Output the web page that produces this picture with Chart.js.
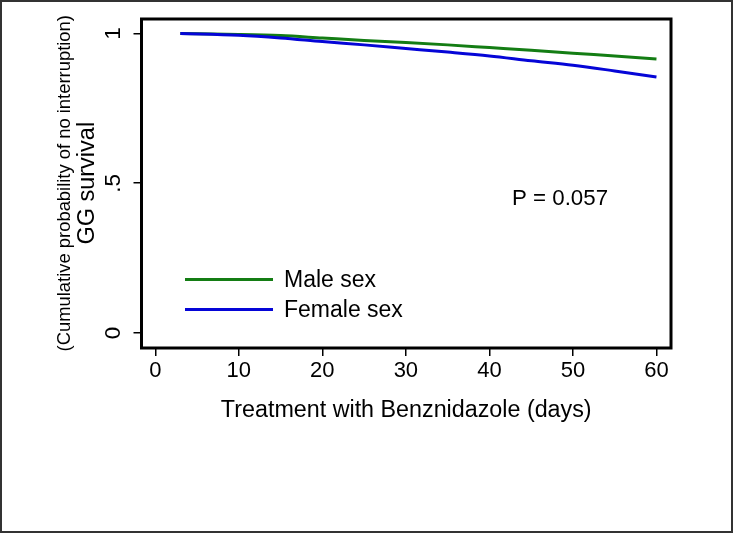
<!DOCTYPE html>
<html>
<head>
<meta charset="utf-8">
<script src="https://cdn.jsdelivr.net/npm/chart.js@4"></script>
<style>
  html, body { margin: 0; padding: 0; background: #fff; }
  canvas { display: block; }
</style>
</head>
<body>
<canvas id="survChart" width="733" height="533"></canvas>
<script>
// survival curves
const days = [3, 10, 15, 20, 25, 30, 35, 40, 45, 50, 55, 60];
const maleSurv = [1.000, 0.997, 0.993, 0.985, 0.977, 0.970, 0.962, 0.953, 0.944, 0.934, 0.925, 0.915];
const femaleSurv = [1.000, 0.994, 0.985, 0.973, 0.962, 0.950, 0.938, 0.925, 0.909, 0.894, 0.875, 0.855];
const seriesNames = ['Male sex', 'Female sex'];
const xTicks = [0, 10, 20, 30, 40, 50, 60];
const yTicks = [0, 0.5, 1];
const yTickLabels = ['0', '.5', '1'];
const pValueText = 'P = 0.057';

const FONT = "'Liberation Sans', Arial, Helvetica, sans-serif";
Chart.defaults.font.family = FONT;
Chart.defaults.color = '#000';

const GREEN = 'rgb(20,125,20)';
const BLUE = 'rgb(5,5,215)';

// white background, outer border, plot frame, y labels, legend, p value
const decorations = {
    id: 'decorations',
    beforeDraw(chart) {
        const c = chart.ctx;
        c.save();
        c.fillStyle = '#fff';
        c.fillRect(0, 0, chart.width, chart.height);
        c.restore();
    },
    afterDraw(chart) {
        const c = chart.ctx;
        const a = chart.chartArea;
        const ys = chart.scales.y;
        const xs = chart.scales.x;
        c.save();

        // frame round plot area
        c.strokeStyle = '#000';
        c.lineWidth = 3;
        c.strokeRect(a.left, a.top, a.right - a.left, a.bottom - a.top);

        // outer border of the picture
        c.strokeStyle = '#333';
        c.lineWidth = 2;
        c.strokeRect(1, 1, chart.width - 2, chart.height - 2);

        // rotated y tick labels
        c.fillStyle = '#000';
        c.font = '22.5px ' + FONT;
        c.textAlign = 'center';
        c.textBaseline = 'alphabetic';
        ys.ticks.forEach(function (t, i) {
            const py = ys.getPixelForValue(t.value);
            c.save();
            c.translate(120, py);
            c.rotate(-Math.PI / 2);
            c.fillText(yTickLabels[i], 0, 0);
            c.restore();
        });

        // y axis titles
        const midY = ys.getPixelForValue(0.5);
        c.save();
        c.translate(69.5, midY);
        c.rotate(-Math.PI / 2);
        c.font = '18.4px ' + FONT;
        c.fillText('(Cumulative probability of no interruption)', 0, 0);
        c.restore();
        c.save();
        c.translate(94, midY);
        c.rotate(-Math.PI / 2);
        c.font = '23.5px ' + FONT;
        c.fillText('GG survival', 0, 0);
        c.restore();

        // legend inside the plot
        c.textAlign = 'left';
        c.font = '23px ' + FONT;
        chart.data.datasets.forEach(function (ds, i) {
            const ly = 279.5 + i * 30;
            c.strokeStyle = ds.borderColor;
            c.lineWidth = 3;
            c.beginPath();
            c.moveTo(185, ly);
            c.lineTo(273, ly);
            c.stroke();
            c.fillText(ds.label, 284, ly + 7.8);
        });

        // p value
        c.font = '22.3px ' + FONT;
        c.fillText(pValueText, xs.getPixelForValue(42.7), ys.getPixelForValue(0.427));
        c.restore();
    }
};

const ctx = document.getElementById('survChart').getContext('2d');
const chart = new Chart(ctx, {
    type: 'line',
    data: {
        datasets: [{
            label: seriesNames[0],
            data: days.map((d, i) => ({ x: d, y: maleSurv[i] })),
            borderColor: GREEN,
            borderWidth: 3,
            pointRadius: 0,
            cubicInterpolationMode: 'monotone',
            order: 2
        }, {
            label: seriesNames[1],
            data: days.map((d, i) => ({ x: d, y: femaleSurv[i] })),
            borderColor: BLUE,
            borderWidth: 3,
            pointRadius: 0,
            cubicInterpolationMode: 'monotone',
            order: 1
        }]
    },
    options: {
        responsive: false,
        animation: false,
        layout: { padding: { top: 19, right: 62, left: 0, bottom: 93 } },
        plugins: {
            legend: { display: false },
            tooltip: { enabled: false }
        },
        scales: {
            x: {
                type: 'linear',
                min: -1.65,
                max: 61.74,
                afterBuildTicks: (s) => { s.ticks = xTicks.map(v => ({ value: v })); },
                afterFit: (s) => { s.height = 92; },
                ticks: { font: { size: 22 }, color: '#000', padding: 2, maxRotation: 0 },
                grid: { drawOnChartArea: false, tickLength: 8, color: '#000', lineWidth: 1.5 },
                border: { display: false },
                title: {
                    display: true,
                    text: 'Treatment with Benznidazole (days)',
                    font: { size: 23.3 },
                    color: '#000',
                    padding: { top: 0, bottom: 15 }
                }
            },
            y: {
                type: 'linear',
                min: -0.0501,
                max: 1.0484,
                afterBuildTicks: (s) => { s.ticks = yTicks.map(v => ({ value: v })); },
                afterFit: (s) => { s.width = 141.5; },
                ticks: { display: false },
                grid: { drawOnChartArea: false, tickLength: 8, color: '#000', lineWidth: 1.5 },
                border: { display: false }
            }
        }
    },
    plugins: [decorations]
});
</script>
</body>
</html>
